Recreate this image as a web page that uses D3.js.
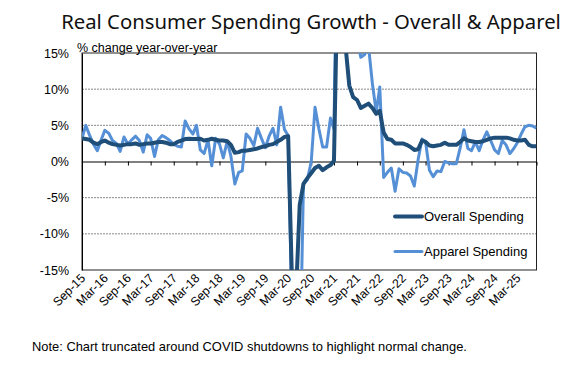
<!DOCTYPE html>
<html>
<head>
<meta charset="utf-8">
<script src="https://cdn.jsdelivr.net/npm/d3@7"></script>
<style>
  body { margin: 0; background: #fff; }
  svg { display: block; font-family: "Liberation Sans", Arial, sans-serif; }
</style>
</head>
<body>
<svg id="chart"></svg>
<script>
// 数据: monthly, Sep-2015 .. Aug-2025
const startMonth = new Date(2015, 8, 1);
const overall = [
  3.2, 3.1, 3.0, 2.6, 2.4, 2.7, 2.9, 2.6, 2.4, 2.3, 2.2, 2.3,
  2.4, 2.4, 2.5, 2.3, 2.4, 2.5, 2.5, 2.6, 2.7, 2.7, 2.6, 2.4,
  2.4, 2.7, 2.9, 3.1, 3.15, 3.1, 3.1, 3.15, 2.9, 3.0, 3.15, 3.0,
  2.9, 2.9, 2.8, 2.3, 1.2, 1.3, 1.5, 1.5, 1.6, 1.7, 1.8, 2.0,
  2.1, 2.3, 2.4, 2.7, 3.0, 3.4, 3.5, -17, -19, -6, -3.1, -2.3,
  -1.6, -0.9, -0.6, -1.2, -0.8, -0.5, 0.1, 28, 17, 16, 10.5, 8.9,
  8.5, 7.4, 7.7, 8.0, 7.4, 6.6, 7.0, 4.0, 3.1, 3.0, 2.5, 2.5,
  2.5, 2.3, 2.0, 1.6, 1.7, 2.9, 2.7, 2.2, 2.1, 2.2, 2.3, 2.6,
  2.3, 2.3, 2.3, 2.7, 3.2, 2.9, 2.8, 2.7, 2.7, 2.8, 3.0, 3.2,
  3.3, 3.3, 3.3, 3.3, 3.2, 3.0, 2.9, 2.9, 3.0, 2.3, 2.1, 2.1
];
const apparel = [
  3.2, 5.0, 3.6, 2.4, 1.5, 3.0, 4.3, 3.9, 2.9, 2.5, 1.4, 3.4,
  2.4, 3.0, 3.5, 2.9, 1.3, 3.7, 3.2, 0.7, 3.0, 3.6, 3.3, 2.9,
  2.4, 2.1, 2.0, 5.6, 4.5, 3.8, 5.0, 1.6, 1.1, 3.0, -0.6, 3.2,
  2.4, 0.5, 2.8, 0.7, -3.1, -1.5, -1.3, 3.8, 3.2, 2.2, 4.6, 3.2,
  1.9, 3.5, 4.6, 2.3, 7.5, 4.4, 3.6, -22, -50, -30, -3.0, -2.5,
  0.0, 7.5, 4.5, 2.0, 2.0, 6.0, 4.5, 40, 60, 40, 30, 20,
  17, 14.4, 14.8, 16, 10.8, 6.8, 10.3, -2.2, -1.5, -0.9, -4.1, -1.0,
  -1.5, -1.6, -2.0, -3.4, 0.3, 3.1, 2.7, -1.2, -2.1, -1.3, -1.4, 0.0,
  -0.2, -0.3, -0.3, 1.8, 4.4, 1.8, 1.5, 2.7, 1.5, 3.0, 4.1, 2.9,
  1.6, 1.1, 2.9, 2.3, 1.1, 1.8, 2.6, 3.8, 4.8, 5.0, 4.9, 4.6
];
const yTicks = [15, 10, 5, 0, -5, -10, -15];
const tickLabels = ["Sep-15", "Mar-16", "Sep-16", "Mar-17", "Sep-17", "Mar-18", "Sep-18",
  "Mar-19", "Sep-19", "Mar-20", "Sep-20", "Mar-21", "Sep-21", "Mar-22", "Sep-22",
  "Mar-23", "Sep-23", "Mar-24", "Sep-24", "Mar-25"];
const seriesNames = ["Overall Spending", "Apparel Spending"];

const months = overall.map(function (d, i) { return d3.timeMonth.offset(startMonth, i); });
const tickDates = tickLabels.map(function (d) { return d3.timeParse("%b-%y")(d); });

// 配置
const W = 587, H = 371;
const plot = { left: 82, right: 536.5, top: 53, bottom: 270 };
const colors = ["#1f4e79", "#5590d6"];

const svg = d3.select("#chart").attr("width", W).attr("height", H);

// 比例尺
const x = d3.scaleTime()
  .domain([months[0], months[months.length - 1]])
  .range([plot.left, plot.right]);
const y = d3.scaleLinear().domain([-15, 15]).range([plot.bottom, plot.top]);

// 标题
svg.append("text")
  .attr("x", 311).attr("y", 29)
  .attr("text-anchor", "middle")
  .attr("font-family", "'Noto Sans', sans-serif")
  .attr("font-size", 20.3)
  .attr("fill", "#111")
  .text("Real Consumer Spending Growth - Overall & Apparel");

// 网格线
svg.append("g")
  .selectAll("line")
  .data(yTicks.filter(function (d) { return d !== 0 && Math.abs(d) !== 15; }))
  .enter().append("line")
  .attr("x1", plot.left).attr("x2", plot.right)
  .attr("y1", function (d) { return y(d); }).attr("y2", function (d) { return y(d); })
  .attr("stroke", "#888").attr("stroke-width", 1).attr("stroke-dasharray", "2,1");

// 边框
svg.append("rect")
  .attr("x", plot.left).attr("y", plot.top)
  .attr("width", plot.right - plot.left).attr("height", plot.bottom - plot.top)
  .attr("fill", "none").attr("stroke", "#222").attr("stroke-width", 1);

// Y轴
const yAxis = svg.append("g")
  .attr("transform", "translate(" + plot.left + ",0)")
  .call(d3.axisLeft(y).tickValues(yTicks).tickSize(0).tickPadding(13)
    .tickFormat(function (d) { return d + "%"; }));
yAxis.select(".domain").attr("stroke", "#000");
yAxis.selectAll("text").attr("font-size", 12.5).attr("fill", "#000")
  .attr("font-family", "'Liberation Sans', Arial, sans-serif");

// X轴 (on 0 line)
const xAxis = svg.append("g")
  .attr("transform", "translate(0," + y(0) + ")")
  .call(d3.axisBottom(x).tickValues(tickDates).tickSize(4).tickFormat(""));
xAxis.select(".domain").attr("stroke", "#000");
xAxis.selectAll("line").attr("stroke", "#000");

// X labels at bottom
svg.append("g")
  .selectAll("text")
  .data(tickDates)
  .enter().append("text")
  .attr("transform", function (d) { return "translate(" + (x(d) + 4) + "," + (plot.bottom + 9) + ") rotate(-45)"; })
  .attr("text-anchor", "end")
  .attr("font-size", 12.3)
  .attr("fill", "#000")
  .text(function (d, i) { return tickLabels[i]; });

// 线
svg.append("clipPath").attr("id", "clip")
  .append("rect")
  .attr("x", plot.left).attr("y", plot.top)
  .attr("width", plot.right - plot.left).attr("height", plot.bottom - plot.top);

const line = d3.line()
  .x(function (d, i) { return x(months[i]); })
  .y(function (d) { return y(d); });

const lines = svg.append("g").attr("clip-path", "url(#clip)");
lines.append("path").datum(apparel)
  .attr("fill", "none").attr("stroke", colors[1]).attr("stroke-width", 3)
  .attr("stroke-linejoin", "round").attr("d", line);
lines.append("path").datum(overall)
  .attr("fill", "none").attr("stroke", colors[0]).attr("stroke-width", 4)
  .attr("stroke-linejoin", "round").attr("d", line);

// 轴标题
svg.append("text")
  .attr("x", 77).attr("y", 52)
  .attr("font-size", 12.5).attr("fill", "#000")
  .text("% change year-over-year");

// 图例
const legend = svg.append("g").selectAll("g")
  .data(seriesNames)
  .enter().append("g")
  .attr("transform", function (d, i) { return "translate(395," + (216.5 + i * 35) + ")"; });
legend.append("line")
  .attr("x1", 0).attr("x2", 27)
  .attr("stroke", function (d, i) { return colors[i]; })
  .attr("stroke-width", function (d, i) { return i === 0 ? 4 : 3; })
  .attr("stroke-linecap", "round");
legend.append("text")
  .attr("x", 29).attr("y", 4.5)
  .attr("font-size", 13).attr("fill", "#000")
  .text(function (d) { return d; });

// 注释
svg.append("text")
  .attr("x", 32).attr("y", 351)
  .attr("font-size", 12.9).attr("fill", "#000")
  .text("Note: Chart truncated around COVID shutdowns to highlight normal change.");
</script>
</body>
</html>
